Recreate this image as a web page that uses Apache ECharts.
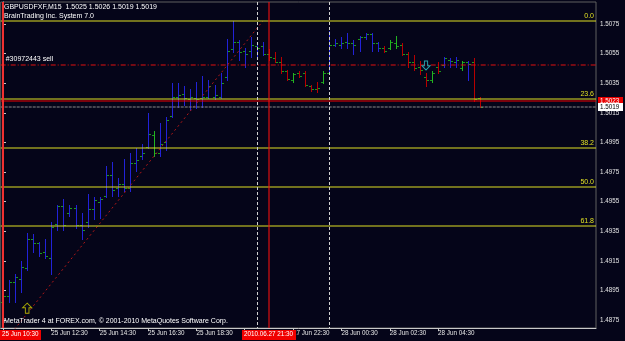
<!DOCTYPE html>
<html><head><meta charset="utf-8">
<script src="https://cdn.jsdelivr.net/npm/echarts@6/dist/echarts.min.js"></script>
<style>html,body{margin:0;padding:0;background:#050519;}#c{width:625px;height:341px;}</style>
</head><body><div id="c"></div>
<script>
// ---------------- DATA ----------------
const symbolName = 'GBPUSDFXF';
const timeframe = 'M15';
const indicatorName = 'BrainTrading Inc. System 7.0';
const footerText = 'MetaTrader 4 at FOREX.com, \u00a9 2001-2010 MetaQuotes Software Corp.';

// bar index (0 = 25 Jun 10:30, M15 bars; 42 = 27 Jun 21:00 after weekend)
const barIndex = [0,1,2,3,4,5,6,7,8,9,10,11,12,13,14,15,16,17,18,19,20,21,22,23,24,25,26,27,28,29,30,31,32,33,34,35,36,37,38,39,40,41,42,43,44,45,46,47,48,49,50,51,52,53,54,55,56,57,58,59,60,61,62,63,64,65,66,67,68,69,70,71,72,73,74,75,76,77,78,79];
const opens  = [1.4887,1.4891,1.4901,1.4903,1.4910,1.4930,1.4927,1.4921,1.4917,1.4940,1.4952,1.4947,1.4951,1.4939,1.4941,1.4950,1.4955,1.4959,1.4973,1.4964,1.4967,1.4964,1.4981,1.4986,1.4992,1.5000,1.4988,1.4995,1.5013,1.5026,1.5028,1.5024,1.5025,1.5025,1.5026,1.5026,1.5026,1.5039,1.5058,1.5063,1.5057,1.5057,1.5060,1.5060,1.5055,1.5052,1.5049,1.5043,1.5037,1.5042,1.5042,1.5033,1.5031,1.5036,1.5042,1.5061,1.5061,1.5063,1.5062,1.5065,1.5066,1.5068,1.5062,1.5059,1.5059,1.5062,1.5061,1.5055,1.5049,1.5046,1.5039,1.5037,1.5046,1.5047,1.5051,1.5049,1.5045,1.5049,1.5049,1.5025];
const highs  = [1.4893,1.4902,1.4906,1.4915,1.4934,1.4933,1.4928,1.4930,1.4941,1.4953,1.4957,1.4953,1.4953,1.4947,1.4960,1.4958,1.4958,1.4979,1.4982,1.4971,1.4984,1.4988,1.4991,1.4994,1.5015,1.5003,1.5008,1.5012,1.5035,1.5035,1.5033,1.5031,1.5036,1.5040,1.5037,1.5034,1.5042,1.5065,1.5077,1.5064,1.5059,1.5066,1.5063,1.5063,1.5058,1.5056,1.5053,1.5044,1.5042,1.5043,1.5043,1.5034,1.5036,1.5043,1.5070,1.5065,1.5066,1.5069,1.5064,1.5067,1.5069,1.5069,1.5063,1.5060,1.5064,1.5067,1.5062,1.5056,1.5054,1.5050,1.5042,1.5043,1.5049,1.5053,1.5052,1.5053,1.5050,1.5050,1.5052,1.5026];
const lows   = [1.4883,1.4887,1.4887,1.4894,1.4909,1.4921,1.4918,1.4917,1.4906,1.4936,1.4936,1.4945,1.4937,1.4930,1.4938,1.4943,1.4944,1.4958,1.4959,1.4959,1.4962,1.4962,1.4976,1.4984,1.4991,1.4986,1.4986,1.4990,1.5012,1.5019,1.5020,1.5017,1.5018,1.5019,1.5025,1.5024,1.5025,1.5037,1.5056,1.5051,1.5046,1.5053,1.5053,1.5054,1.5051,1.5049,1.5042,1.5037,1.5036,1.5039,1.5033,1.5030,1.5029,1.5035,1.5041,1.5060,1.5059,1.5059,1.5055,1.5057,1.5065,1.5057,1.5057,1.5056,1.5058,1.5059,1.5054,1.5046,1.5044,1.5041,1.5033,1.5036,1.5042,1.5046,1.5046,1.5046,1.5044,1.5037,1.5023,1.5019];
const closes = [1.4891,1.4901,1.4904,1.4911,1.4930,1.4927,1.4920,1.4918,1.4938,1.4952,1.4939,1.4951,1.4939,1.4936,1.4950,1.4956,1.4957,1.4973,1.4963,1.4967,1.4964,1.4981,1.4983,1.4988,1.5001,1.4988,1.4994,1.5010,1.5026,1.5027,1.5025,1.5026,1.5024,1.5026,1.5033,1.5027,1.5035,1.5057,1.5063,1.5056,1.5055,1.5061,1.5059,1.5055,1.5053,1.5049,1.5043,1.5038,1.5041,1.5040,1.5034,1.5031,1.5032,1.5042,1.5061,1.5062,1.5062,1.5062,1.5061,1.5066,1.5068,1.5062,1.5059,1.5057,1.5063,1.5060,1.5055,1.5049,1.5045,1.5044,1.5037,1.5042,1.5043,1.5052,1.5050,1.5051,1.5049,1.5048,1.5024,1.5019];
// indicator state: 1 = up (blue), -1 = down (red), 0 = neutral (green)
const trendState = [1,1,1,1,1,1,1,1,1,1,1,1,1,1,1,1,1,1,1,1,1,1,1,1,1,0,1,1,1,1,1,1,1,1,1,1,1,1,1,1,1,1,1,1,-1,-1,-1,-1,0,-1,-1,-1,-1,0,1,1,1,1,1,1,1,1,1,-1,0,0,-1,-1,-1,-1,-1,0,-1,1,1,1,0,1,-1,-1];

// time axis
const timeTickIndex  = [0,8,16,24,32,40,48,56,64,72];
const timeTickLabels = ['25 Jun 2010','25 Jun 12:30','25 Jun 14:30','25 Jun 16:30','25 Jun 18:30','25 Jun 20:30','27 Jun 22:30','28 Jun 00:30','28 Jun 02:30','28 Jun 04:30'];
// price axis
const priceTicks = [1.4875,1.4895,1.4915,1.4935,1.4955,1.4975,1.4995,1.5015,1.5035,1.5055,1.5075];

// Fibonacci retracement
const fibRatios = [0, 23.6, 38.2, 50.0, 61.8];
const fibHigh = 1.5077, fibLow = 1.4853;
const fibLineTimes  = [-1.2, 43];
const fibLinePrices = [1.4853, 1.5077];

// objects
const orderPrice = 1.5047, orderLabel = '#30972443 sell';
const bidPrice = 1.5019;
const redLinePrice = 1.5023;
const redVLines = [0, 44];
const redVLabels = ['25 Jun 10:30', '2010.06.27 21:30'];
const separators = [42, 54];
const buyArrow  = [4, 1.4883];
const sellArrow = [70, 1.5047];

// ---------------- CHART ----------------
const BG = '#050519', BLUE = '#2222d8', RED = '#b80000', GREEN = '#22b422', TICK = '#1a9a1a';
const YEL = '#e0e024', AX = '#c8c8c8', FONT = '"Liberation Sans", Arial, sans-serif';
const chart = echarts.init(document.getElementById('c'), null, {renderer: 'canvas'});

const barData = barIndex.map((x, k) => [x, opens[k], highs[k], lows[k], closes[k], trendState[k]]);

function renderBar(params, api) {
  const x = api.value(0);
  const o = api.coord([x, api.value(1)]);
  const h = api.coord([x, api.value(2)]);
  const l = api.coord([x, api.value(3)]);
  const c = api.coord([x, api.value(4)]);
  const t = api.value(5);
  const X = Math.round(o[0]);
  const col = t > 0 ? BLUE : (t < 0 ? RED : GREEN);
  const yo = Math.round(o[1]) + 0.5, yc = Math.round(c[1]) + 0.5;
  return {type: 'group', children: [
    {type: 'line', shape: {x1: X + 0.5, y1: Math.round(h[1]), x2: X + 0.5, y2: Math.round(l[1]) + 1}, style: {stroke: col, lineWidth: 1}},
    {type: 'line', shape: {x1: X - 2, y1: yo, x2: X, y2: yo}, style: {stroke: TICK, lineWidth: 1}},
    {type: 'line', shape: {x1: X + 1, y1: yc, x2: X + 3, y2: yc}, style: {stroke: TICK, lineWidth: 1}}
  ]};
}

// chart objects (horizontal: price level, vertical: bar index) with their drawing styles
const objects = [
  ...fibRatios.map(r => ({dir: 'h', value: fibHigh - (fibHigh - fibLow) * r / 100, color: YEL, width: 1.1, dash: null,
    text: r.toFixed(1), textPos: 'rightTop', textColor: YEL})),
  {dir: 'h', value: redLinePrice, color: '#f00000', width: 1.1, dash: null,
    text: redLinePrice.toFixed(4), textPos: 'axisBox', textColor: '#ffffff', box: '#e80000'},
  {dir: 'h', value: bidPrice, color: '#8a8a8a', width: 1.1, dash: [3, 1],
    text: bidPrice.toFixed(4), textPos: 'axisBox', textColor: '#000000', box: '#ffffff'},
  {dir: 'h', value: orderPrice, color: '#e01010', width: 1.1, dash: [5, 2, 1, 2],
    text: orderLabel, textPos: 'leftTop', textColor: '#ffffff'},
  ...separators.map(s => ({dir: 'v', value: s, color: '#d0d0d0', width: 1, dash: [3, 2]})),
  {dir: 'v', value: redVLines[0], color: '#f03030', width: 2, dash: null},
  {dir: 'v', value: redVLines[1], color: '#f01010', width: 1.1, dash: null}
];

function renderObject(params, api) {
  const ob = objects[params.dataIndex];
  const cs = params.coordSys;
  const children = [];
  if (ob.dir === 'h') {
    const y = Math.round(api.coord([0, ob.value])[1]);
    children.push({type: 'line', shape: {x1: cs.x, y1: y, x2: cs.x + cs.width, y2: y},
      style: {stroke: ob.color, lineWidth: ob.width, lineDash: ob.dash}});
    if (ob.textPos === 'rightTop') {
      children.push({type: 'text', x: cs.x + cs.width - 2, y: y - 1,
        style: {text: ob.text, fill: ob.textColor, font: '7px ' + FONT, align: 'right', verticalAlign: 'bottom'}});
    } else if (ob.textPos === 'leftTop') {
      children.push({type: 'text', x: cs.x + 5, y: y - 2,
        style: {text: ob.text, fill: ob.textColor, font: '7px ' + FONT, align: 'left', verticalAlign: 'bottom'}});
    } else if (ob.textPos === 'axisBox') {
      children.push({type: 'rect', shape: {x: cs.x + cs.width + 2, y: y - 4, width: 25, height: 8}, style: {fill: ob.box}});
      children.push({type: 'text', x: cs.x + cs.width + 4, y: y,
        style: {text: ob.text, fill: ob.textColor, font: '6.3px ' + FONT, align: 'left', verticalAlign: 'middle'}});
    }
  } else {
    const x = api.coord([ob.value, 1.5])[0];
    const xx = ob.width === 1 ? Math.round(x) + 0.5 : Math.round(x);
    children.push({type: 'line', shape: {x1: xx, y1: cs.y, x2: xx, y2: cs.y + cs.height},
      style: {stroke: ob.color, lineWidth: ob.width, lineDash: ob.dash}});
  }
  return {type: 'group', children: children};
}

const option = {
  animation: false,
  backgroundColor: BG,
  grid: {left: 0, right: 29, top: 2, bottom: 13, show: true, borderColor: '#606060', borderWidth: 1, backgroundColor: 'transparent'},
  xAxis: {
    type: 'value', min: -0.38, max: 98.13,
    axisLine: {show: true, onZero: false, lineStyle: {color: AX, width: 1}},
    axisTick: {show: true, customValues: timeTickIndex, length: 3, lineStyle: {color: AX}},
    axisLabel: {show: true, customValues: timeTickIndex, align: 'left', margin: 2, color: '#e6e6e6', fontSize: 6.3, fontFamily: FONT,
      formatter: v => timeTickLabels[timeTickIndex.indexOf(Math.round(v))] || ''},
    splitLine: {show: false}
  },
  yAxis: {
    type: 'value', position: 'right', min: 1.486959, max: 1.508986, scale: true,
    axisLine: {show: true, lineStyle: {color: AX, width: 1}},
    axisTick: {show: true, customValues: priceTicks, length: 3, lineStyle: {color: AX}},
    axisLabel: {show: true, customValues: priceTicks, margin: 4, color: '#e6e6e6', fontSize: 6.3, fontFamily: FONT,
      formatter: v => v.toFixed(4)},
    splitLine: {show: false}
  },
  series: [
    {type: 'custom', name: 'bars', renderItem: renderBar, data: barData, encode: {x: 0, y: [1, 2, 3, 4]}, clip: true, z: 2, silent: true},
    {type: 'line', name: 'fibBase', data: fibLineTimes.map((t, i) => [t, fibLinePrices[i]]), showSymbol: false, clip: true, silent: true, z: 3,
      lineStyle: {color: '#b01818', width: 1, type: [2, 3]}},
    {type: 'custom', name: 'objects', renderItem: renderObject, data: objects.map((o, i) => [i, o.value]), clip: false, z: 5, silent: true},
    {type: 'scatter', name: 'buy', data: [buyArrow], symbol: 'path://M5,0 L10,5 L7,5 L7,11 L3,11 L3,5 L0,5 Z', symbolSize: [9, 10], z: 6, silent: true,
      itemStyle: {color: BG, borderColor: '#d0d000', borderWidth: 1}},
    {type: 'scatter', name: 'sell', data: [sellArrow], symbol: 'path://M3,0 L7,0 L7,6 L10,6 L5,11 L0,6 L3,6 Z', symbolSize: [8, 9], z: 6, silent: true,
      itemStyle: {color: BG, borderColor: '#30c8d0', borderWidth: 1}}
  ]
};
chart.setOption(option);

// header/footer texts and red time boxes on the time axis
const last = barIndex.length - 1;
const header = symbolName + ',' + timeframe + '  ' + [opens[last], highs[last], lows[last], closes[last]].map(v => v.toFixed(4)).join(' ');
const mctx = document.createElement('canvas').getContext('2d');
mctx.font = '6.3px ' + FONT;
const gBottom = chart.getHeight() - 13;
const graphics = [
  {type: 'text', left: 4, top: 4, z: 100, style: {text: header, fill: '#ffffff', font: '7px ' + FONT}},
  {type: 'text', left: 4, top: 13, z: 100, style: {text: indicatorName, fill: '#ffffff', font: '7px ' + FONT}},
  {type: 'text', left: 4, top: 318, z: 100, style: {text: footerText, fill: '#ffffff', font: '7px ' + FONT}}
];
redVLines.forEach((idx, i) => {
  const px = chart.convertToPixel({xAxisIndex: 0}, idx);
  const w = Math.ceil(mctx.measureText(redVLabels[i]).width) + 4;
  let x0 = Math.round(px - w / 2);
  if (x0 < 0) x0 = 0;
  graphics.push({type: 'rect', z: 100, shape: {x: x0, y: gBottom + 2, width: w, height: 10}, style: {fill: '#f00000'}});
  graphics.push({type: 'text', z: 101, x: x0 + 2, y: gBottom + 3, style: {text: redVLabels[i], fill: '#ffffff', font: '6.3px ' + FONT}});
});
chart.setOption({graphic: graphics});
</script>
</body></html>
